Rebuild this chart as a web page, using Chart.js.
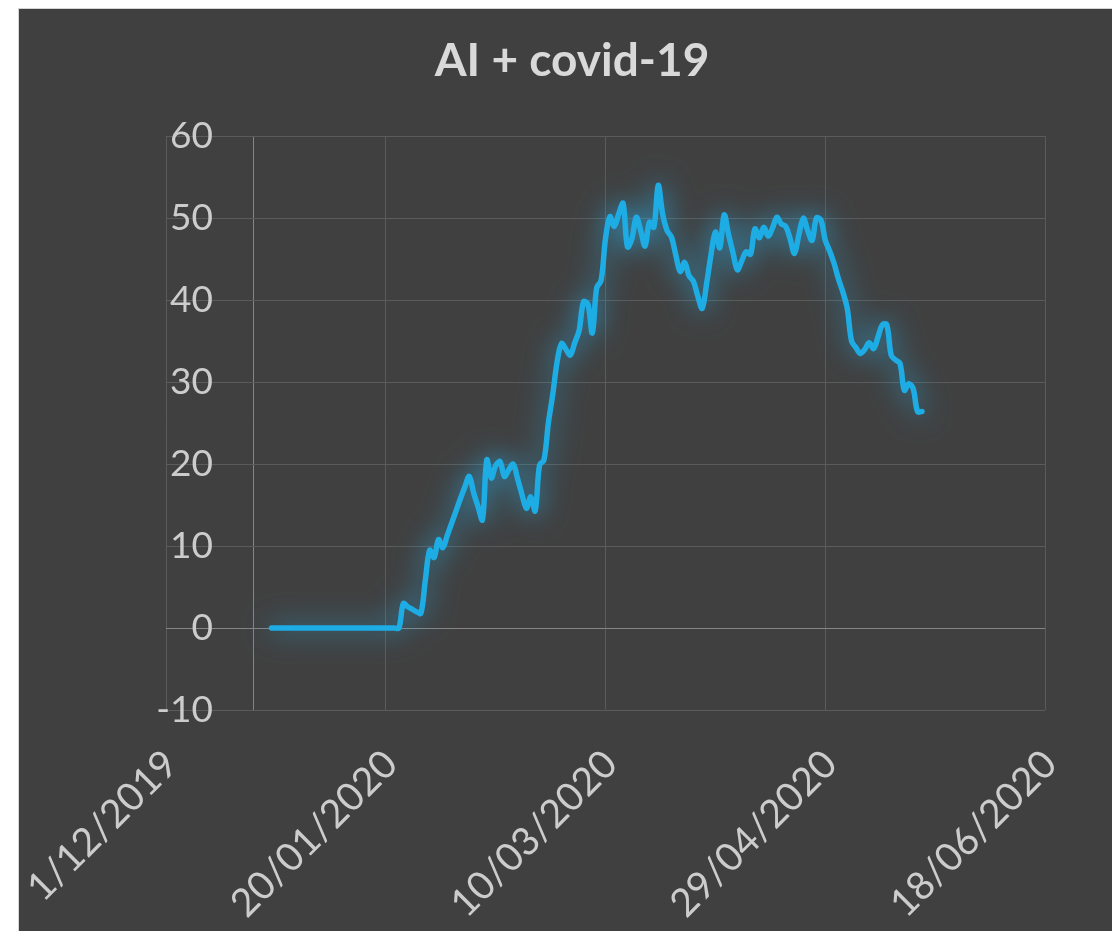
<!DOCTYPE html>
<html><head><meta charset="utf-8">
<script src="https://cdn.jsdelivr.net/npm/chart.js@4.4.1/dist/chart.umd.min.js"></script>
<style>
html,body{margin:0;padding:0;background:#ffffff;}
#wrap{position:absolute;left:18px;top:8px;border-left:1px solid #d4d4d4;border-top:1px solid #d4d4d4;}
canvas{display:block;background:#404040;}
</style></head><body>
<div id="wrap"><canvas id="c" width="1093" height="922"></canvas></div>
<script>
const chartTitle = 'AI + covid-19';
const axisStartDate = '2019-12-01';
const seriesStartDate = '2019-12-25';
const axisCrossDate = '2019-12-21';
const xTickLabels = ['1/12/2019', '20/01/2020', '10/03/2020', '29/04/2020', '18/06/2020'];
const xTickStepDays = 50;
const yTicks = [-10, 0, 10, 20, 30, 40, 50, 60];
const dailyValues = [
  0,0,0,0,0,0,0,0,0,0, 0,0,0,0,0,0,0,0,0,0, 0,0,0,0,0,0,0,0,0,0,
  3.0,2.6,2.3,2.0,1.8,5.8,9.5,8.6,10.8,9.8,
  11.3,12.8,14.3,15.8,17.2,18.5,16.5,14.8,13.2,20.5,
  18.3,19.8,20.3,18.5,19.3,20.0,18.2,16.3,14.6,16.0,
  14.3,19.9,20.5,25.0,28.5,32.5,34.7,34.0,33.3,34.8,
  36.3,39.8,39.5,36.0,41.5,42.4,47.5,50.2,49.0,50.5,
  51.8,46.5,47.5,50.1,48.5,46.6,49.5,48.9,54.0,50.5,
  48.5,47.7,45.5,43.5,44.6,43.0,42.3,40.5,39.0,42.0,
  45.5,48.3,46.4,50.4,48.0,45.8,43.7,44.8,45.9,45.6,
  48.7,47.6,48.9,47.8,48.8,50.1,49.3,49.0,47.5,45.7,
  48.0,50.0,48.5,47.3,50.0,49.8,47.3,46.0,44.5,42.6,
  41.0,39.0,35.0,34.2,33.5,34.0,34.8,34.1,35.5,37.0,
  37.0,33.3,32.7,32.3,29.0,29.8,29.2,26.4,26.4
];

function dayOffset(iso) {
  const p = s => { const [y, m, d] = s.split('-').map(Number); return Date.UTC(y, m - 1, d); };
  return Math.round((p(iso) - p(axisStartDate)) / 86400000);
}
const startOff = dayOffset(seriesStartDate);
const crossOff = dayOffset(axisCrossDate);
const points = dailyValues.map((v, i) => ({ x: startOff + i, y: v }));

const Y_FONT = { family: 'Lato', size: 37 };
const X_FONT = { family: 'Lato', size: 39 };
const mctx = document.createElement('canvas').getContext('2d');
mctx.font = Y_FONT.size + 'px ' + Y_FONT.family;
const widestY = Math.max(...yTicks.map(t => mctx.measureText(String(t)).width));
const yLabelPad = 47 - widestY;

const glow = {
  id: 'glow',
  beforeDatasetDraw(chart) {
    const c = chart.ctx; c.save();
    c.shadowColor = 'rgba(40,180,240,0.85)';
    c.shadowBlur = 28;
  },
  afterDatasetDraw(chart) { chart.ctx.restore(); }
};

new Chart(document.getElementById('c'), {
  type: 'line',
  data: {
    datasets: [{
      data: points,
      borderColor: '#1eace4',
      borderWidth: 5.5,
      pointRadius: 0,
      tension: 0.35,
      borderCapStyle: 'round',
      borderJoinStyle: 'round',
      fill: false
    }]
  },
  options: {
    responsive: false,
    animation: false,
    layout: { padding: { left: 13, right: 0, top: 0, bottom: 0 } },
    plugins: {
      legend: { display: false },
      tooltip: { enabled: false },
      title: {
        display: true,
        text: chartTitle,
        color: '#d9d9d9',
        font: { family: 'Lato', size: 46, weight: 'bold' },
        padding: { top: 25, bottom: 47 }
      }
    },
    scales: {
      x: {
        type: 'linear',
        min: 0,
        max: xTickStepDays * (xTickLabels.length - 1),
        afterBuildTicks(s) {
          const t = xTickLabels.map((_, i) => ({ value: i * xTickStepDays }));
          t.push({ value: crossOff });
          t.sort((a, b) => a.value - b.value);
          s.ticks = t;
        },
        afterFit(s) { s.height = 221; s.paddingLeft = 0; s.paddingRight = 0; },
        border: { display: false },
        grid: {
          drawTicks: false,
          lineWidth: 1,
          color: c => (c.tick && c.tick.value === crossOff) ? '#858585' : '#5b5b5b'
        },
        ticks: {
          autoSkip: false,
          minRotation: 45,
          maxRotation: 45,
          padding: 31,
          labelOffset: 5,
          color: '#cccccc',
          font: X_FONT,
          callback: v => {
            const i = v / xTickStepDays;
            return Number.isInteger(i) ? xTickLabels[i] : '';
          }
        }
      },
      y: {
        min: yTicks[0],
        max: yTicks[yTicks.length - 1],
        afterBuildTicks(s) { s.ticks = yTicks.map(v => ({ value: v })); },
        afterFit(s) { s.width = 134; },
        border: { display: false },
        grid: {
          drawTicks: false,
          lineWidth: 1,
          color: c => (c.tick && c.tick.value === 0) ? '#858585' : '#5b5b5b'
        },
        ticks: {
          mirror: true,
          crossAlign: 'far',
          padding: yLabelPad,
          color: '#cccccc',
          font: Y_FONT,
          callback: v => String(v)
        }
      },
      yRight: {
        position: 'right',
        min: yTicks[0],
        max: yTicks[yTicks.length - 1],
        afterFit(s) { s.width = 67; },
        border: { display: false },
        grid: { display: false, drawTicks: false },
        ticks: { display: false }
      }
    }
  },
  plugins: [glow]
});
</script>
</body></html>
